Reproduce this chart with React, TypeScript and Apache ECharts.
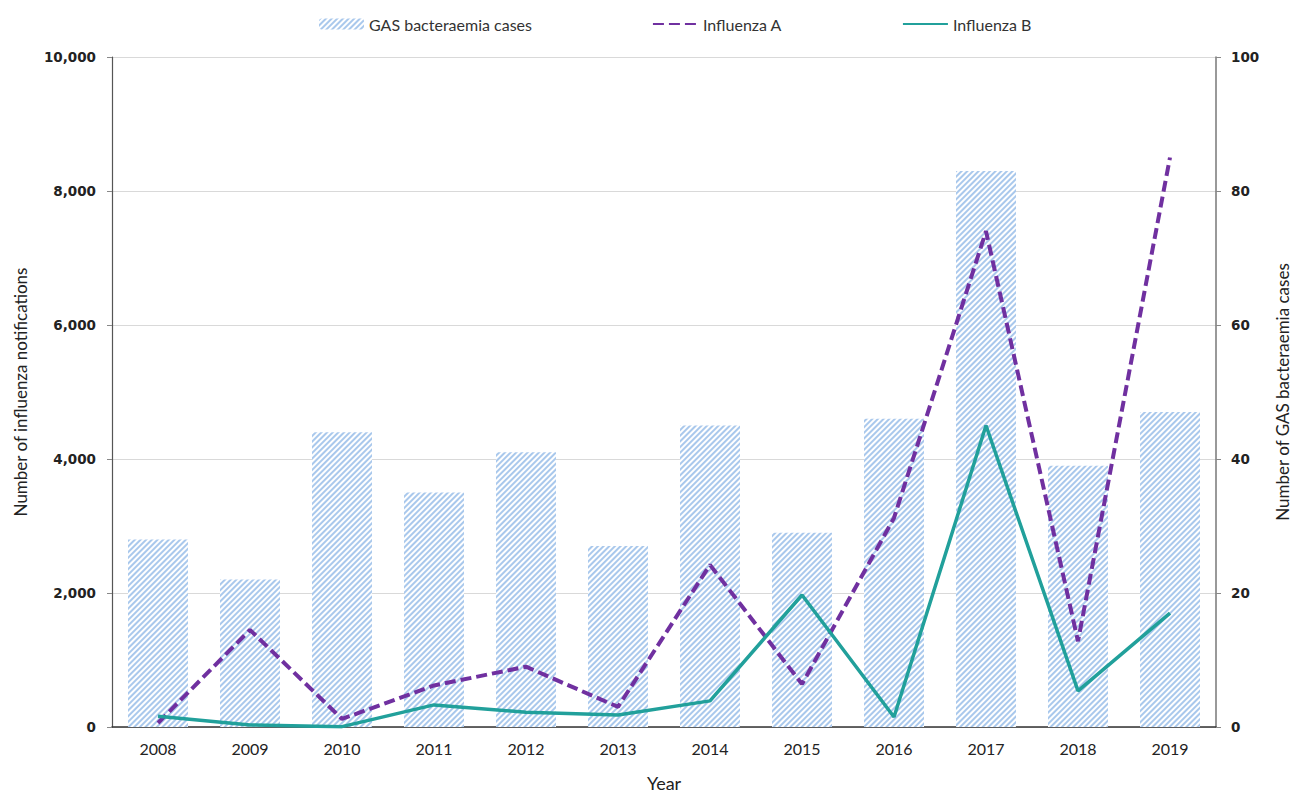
import React, { useEffect, useRef } from "react";
import * as echarts from "echarts";

const years = ["2008", "2009", "2010", "2011", "2012", "2013", "2014", "2015", "2016", "2017", "2018", "2019"];
const gasCases = [28, 22, 44, 35, 41, 27, 45, 29, 46, 83, 39, 47];
const influenzaA = [60, 1450, 120, 620, 900, 300, 2420, 640, 3120, 7400, 1280, 8500];
const influenzaB = [160, 30, 5, 330, 220, 180, 390, 1970, 150, 4500, 540, 1700];

const FONT = "Lato";

export default function App() {
  const ref = useRef<HTMLDivElement>(null);
  useEffect(() => {
    if (!ref.current) return;
    const chart = echarts.init(ref.current, undefined, { renderer: "svg" });
    chart.setOption({
      animation: false,
      backgroundColor: "#ffffff",
      textStyle: { fontFamily: FONT },
      legend: {
        left: 314,
        top: 11,
        itemGap: 120,
        itemWidth: 45,
        itemHeight: 11,
        textStyle: { fontFamily: FONT, fontSize: 16, color: "#333" },
        data: [
          { name: "GAS bacteraemia cases" },
          { name: "Influenza A", itemStyle: { opacity: 0 } },
          { name: "Influenza B", itemStyle: { opacity: 0 } },
        ],
      },
      grid: {
        left: 112,
        right: 77,
        top: 57,
        bottom: 69,
        containLabel: false,
        outerBoundsMode: "none",
      },
      xAxis: {
        type: "category",
        data: years,
        boundaryGap: true,
        name: "Year",
        nameLocation: "middle",
        nameGap: 47,
        nameTextStyle: { fontFamily: FONT, fontSize: 18, color: "#222", verticalAlign: "top" },
        axisLine: { lineStyle: { color: "#333", width: 1.5 } },
        axisTick: { alignWithLabel: true, length: 6, lineStyle: { color: "#333" } },
        axisLabel: { margin: 13, fontFamily: FONT, fontSize: 16, color: "#222" },
      },
      yAxis: [
        {
          type: "value",
          min: 0,
          max: 10000,
          interval: 2000,
          name: "Number of influenza notifications",
          nameLocation: "middle",
          nameGap: 83,
          nameTextStyle: { fontFamily: FONT, fontSize: 17, color: "#222" },
          axisLine: { show: true, lineStyle: { color: "#555", width: 1.2 } },
          axisTick: { show: true, length: 5, lineStyle: { color: "#888" } },
          axisLabel: {
            margin: 16,
            fontFamily: "DejaVu Sans",
            fontSize: 13.5,
            fontWeight: "bold",
            color: "#222",
            formatter: (v: number) => v.toLocaleString("en-US"),
          },
          splitLine: { show: true, lineStyle: { color: "#d9d9d9", width: 1 } },
        },
        {
          type: "value",
          min: 0,
          max: 100,
          interval: 20,
          name: "Number of GAS bacteraemia cases",
          nameLocation: "middle",
          nameGap: 58,
          nameRotate: 90,
          nameTextStyle: { fontFamily: FONT, fontSize: 17, color: "#222" },
          axisLine: { show: true, lineStyle: { color: "#777", width: 1.5 } },
          axisTick: { show: true, length: 5, lineStyle: { color: "#888" } },
          axisLabel: {
            margin: 15,
            fontFamily: "DejaVu Sans",
            fontSize: 13.5,
            fontWeight: "bold",
            color: "#222",
          },
          splitLine: { show: false },
        },
      ],
      series: [
        {
          name: "GAS bacteraemia cases",
          type: "bar",
          yAxisIndex: 1,
          data: gasCases,
          barWidth: 60,
          itemStyle: {
            color: "#ffffff",
            decal: {
              symbol: "rect",
              color: "#a9c8ec",
              dashArrayX: [1, 0],
              dashArrayY: [2, 2],
              rotation: -Math.PI / 4,
            },
          },
          z: 1,
        },
        {
          name: "Influenza A",
          type: "line",
          yAxisIndex: 0,
          data: influenzaA,
          symbol: "none",
          lineStyle: { color: "#7030a0", width: 4, type: [11, 5] },
          itemStyle: { color: "#7030a0" },
          z: 3,
        },
        {
          name: "Influenza B",
          type: "line",
          yAxisIndex: 0,
          data: influenzaB,
          symbol: "none",
          lineStyle: { color: "#21a09b", width: 3.5 },
          itemStyle: { color: "#21a09b" },
          z: 4,
        },
      ],
    });
    return () => chart.dispose();
  }, []);
  return (
    <div
      ref={ref}
      style={{ position: "fixed", left: 0, top: 0, width: 1293, height: 796 }}
    />
  );
}
